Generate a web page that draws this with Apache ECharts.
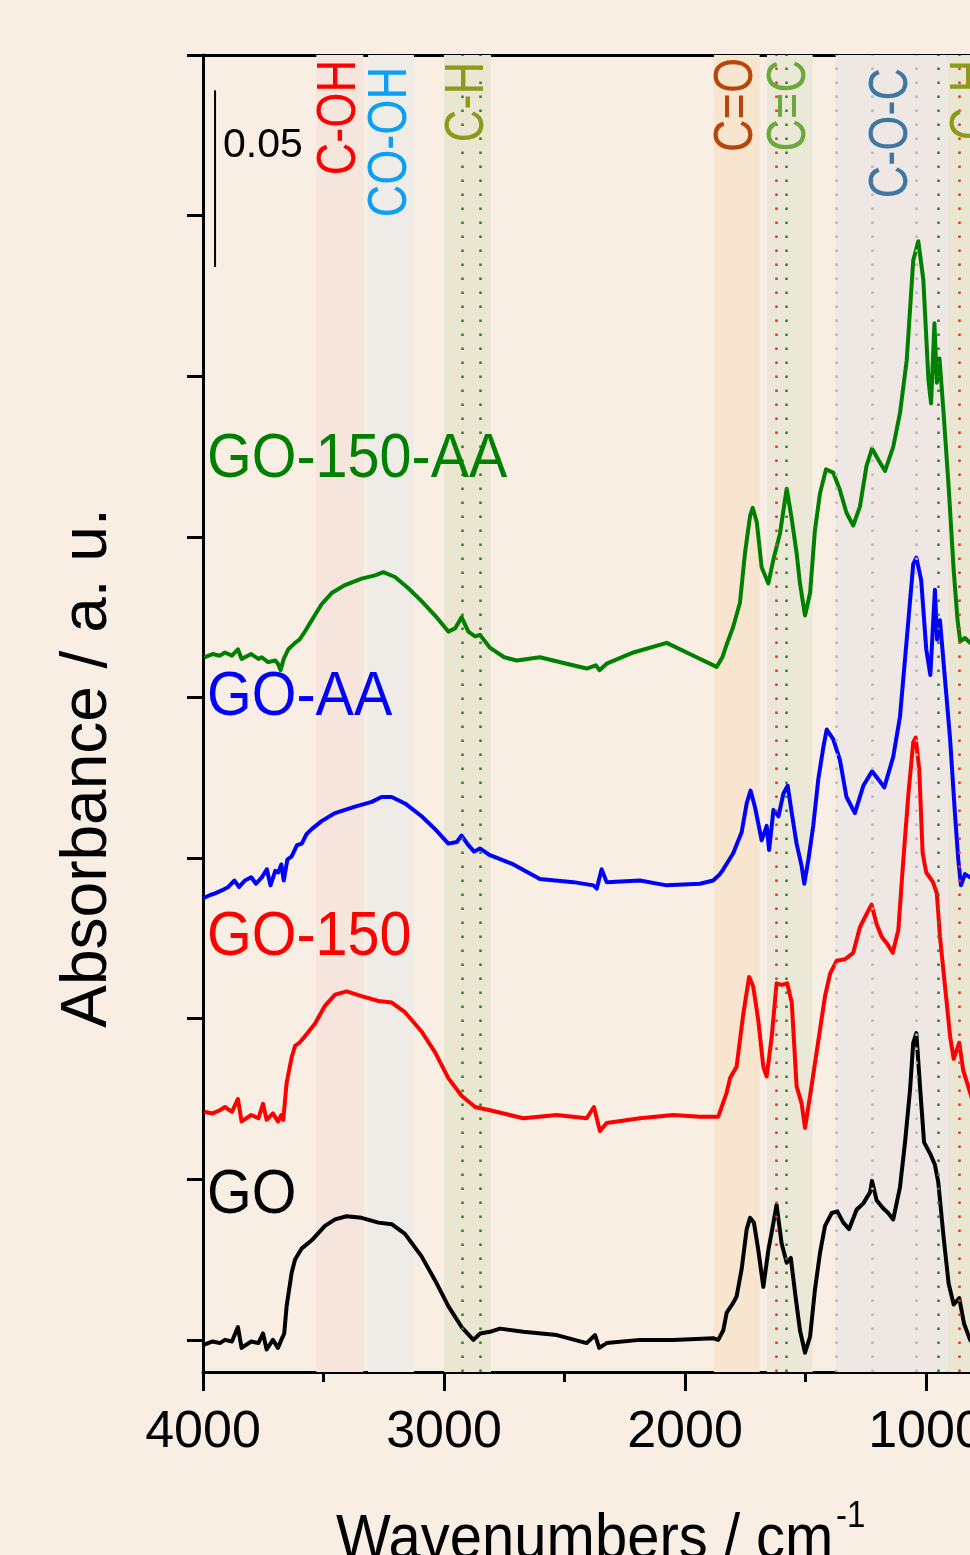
<!DOCTYPE html>
<html>
<head>
<meta charset="utf-8">
<script src="https://cdn.jsdelivr.net/npm/echarts@6/dist/echarts.min.js"></script>
<style>
  html, body { margin: 0; padding: 0; background: #f8eee3; }
  #chart { width: 970px; height: 1555px; }
</style>
</head>
<body>
<div id="chart"></div>
<script>
// spectra: [wavenumber cm-1, offset absorbance in tick units]
const go = [[3995,-0.03],[3960,-0.01],[3930,-0.02],[3909,0.00],[3880,-0.01],[3855,0.08],[3840,-0.05],[3800,-0.01],[3770,-0.02],[3751,0.04],[3736,-0.06],[3710,0.00],[3689,-0.05],[3675,0.00],[3663,0.04],[3653,0.21],[3632,0.42],[3618,0.50],[3590,0.57],[3549,0.62],[3494,0.71],[3452,0.75],[3404,0.77],[3342,0.76],[3272,0.73],[3217,0.72],[3162,0.66],[3093,0.52],[3037,0.37],[2982,0.21],[2927,0.08],[2878,0.00],[2850,0.04],[2809,0.05],[2768,0.07],[2671,0.05],[2532,0.03],[2408,-0.02],[2373,0.03],[2356,-0.05],[2325,-0.02],[2187,0.00],[2049,0.00],[1883,0.01],[1862,0.00],[1841,0.06],[1827,0.17],[1800,0.23],[1786,0.27],[1765,0.44],[1744,0.69],[1730,0.76],[1714,0.73],[1696,0.56],[1675,0.33],[1654,0.56],[1633,0.73],[1620,0.84],[1599,0.60],[1578,0.48],[1561,0.51],[1543,0.29],[1523,0.06],[1502,-0.08],[1481,0.02],[1461,0.31],[1440,0.54],[1419,0.71],[1391,0.79],[1368,0.80],[1343,0.73],[1319,0.69],[1288,0.81],[1260,0.85],[1232,0.92],[1224,0.99],[1205,0.87],[1178,0.82],[1157,0.79],[1136,0.75],[1108,0.95],[1087,1.23],[1066,1.56],[1053,1.85],[1040,1.91],[1024,1.56],[1008,1.23],[983,1.16],[963,1.09],[949,0.98],[927,0.64],[906,0.35],[885,0.22],[862,0.26],[842,0.10],[817,0.00],[800,-0.03]];

const go150 = [[3995,1.42],[3960,1.41],[3930,1.43],[3909,1.45],[3880,1.42],[3855,1.50],[3840,1.36],[3800,1.40],[3770,1.38],[3751,1.47],[3736,1.37],[3710,1.41],[3689,1.36],[3675,1.40],[3667,1.37],[3653,1.60],[3632,1.76],[3618,1.83],[3600,1.85],[3577,1.89],[3535,1.97],[3494,2.08],[3452,2.15],[3404,2.17],[3342,2.14],[3272,2.11],[3217,2.10],[3162,2.04],[3093,1.92],[3037,1.79],[2982,1.63],[2927,1.52],[2871,1.45],[2809,1.43],[2671,1.38],[2532,1.40],[2408,1.38],[2378,1.45],[2353,1.30],[2325,1.35],[2187,1.38],[2049,1.40],[1938,1.39],[1862,1.39],[1827,1.54],[1813,1.63],[1786,1.70],[1758,2.03],[1734,2.26],[1717,2.20],[1696,1.99],[1675,1.70],[1661,1.64],[1640,1.89],[1620,2.22],[1599,2.21],[1576,2.22],[1557,2.10],[1537,1.58],[1516,1.47],[1502,1.32],[1481,1.52],[1461,1.72],[1440,1.93],[1419,2.14],[1398,2.28],[1371,2.36],[1336,2.37],[1302,2.41],[1274,2.57],[1247,2.65],[1226,2.71],[1205,2.59],[1184,2.51],[1163,2.47],[1138,2.41],[1115,2.55],[1094,2.99],[1073,3.40],[1053,3.72],[1043,3.75],[1028,3.55],[1014,3.03],[999,2.91],[971,2.85],[955,2.78],[942,2.51],[921,2.20],[900,1.89],[885,1.75],[862,1.85],[846,1.68],[817,1.54],[800,1.45]];

const goAA = [[3999,2.75],[3970,2.77],[3950,2.78],[3920,2.80],[3895,2.82],[3870,2.86],[3850,2.82],[3826,2.86],[3800,2.88],[3780,2.84],[3756,2.88],[3735,2.93],[3720,2.83],[3700,2.92],[3688,2.91],[3675,2.96],[3665,2.86],[3650,2.99],[3632,3.01],[3610,3.08],[3590,3.09],[3570,3.15],[3549,3.18],[3508,3.23],[3452,3.28],[3369,3.32],[3300,3.35],[3259,3.38],[3217,3.38],[3162,3.34],[3093,3.26],[3037,3.18],[2982,3.09],[2947,3.10],[2927,3.14],[2899,3.08],[2875,3.04],[2851,3.06],[2812,3.02],[2712,2.96],[2602,2.87],[2463,2.85],[2380,2.83],[2366,2.81],[2346,2.93],[2325,2.85],[2187,2.86],[2076,2.83],[1938,2.84],[1883,2.86],[1855,2.90],[1841,2.93],[1800,3.03],[1765,3.16],[1744,3.34],[1728,3.42],[1710,3.32],[1682,3.11],[1661,3.20],[1651,3.05],[1633,3.30],[1612,3.26],[1592,3.40],[1574,3.45],[1557,3.28],[1537,3.09],[1516,2.95],[1505,2.84],[1488,2.99],[1468,3.20],[1447,3.49],[1426,3.69],[1412,3.80],[1385,3.74],[1357,3.61],[1330,3.38],[1295,3.28],[1260,3.45],[1224,3.54],[1198,3.49],[1173,3.44],[1136,3.63],[1108,3.88],[1080,4.36],[1053,4.83],[1040,4.87],[1020,4.73],[999,4.30],[982,4.14],[963,4.67],[954,4.36],[942,4.48],[921,4.11],[900,3.74],[880,3.28],[866,2.99],[855,2.83],[838,2.90],[817,2.88],[800,2.89]];

const go150AA = [[3995,4.25],[3960,4.27],[3930,4.26],[3909,4.28],[3880,4.26],[3855,4.30],[3840,4.24],[3800,4.27],[3770,4.24],[3756,4.25],[3730,4.22],[3700,4.23],[3689,4.21],[3678,4.17],[3665,4.24],[3646,4.30],[3618,4.34],[3600,4.36],[3577,4.41],[3549,4.48],[3508,4.58],[3466,4.65],[3411,4.70],[3342,4.74],[3286,4.76],[3252,4.78],[3203,4.75],[3148,4.68],[3093,4.60],[3037,4.51],[2982,4.41],[2954,4.43],[2927,4.50],[2899,4.41],[2871,4.38],[2851,4.39],[2810,4.31],[2750,4.25],[2698,4.23],[2602,4.25],[2491,4.21],[2408,4.18],[2370,4.20],[2355,4.17],[2325,4.21],[2214,4.28],[2076,4.34],[1965,4.26],[1869,4.19],[1845,4.25],[1827,4.33],[1800,4.44],[1772,4.59],[1751,4.90],[1730,5.13],[1719,5.18],[1702,5.09],[1682,4.81],[1654,4.71],[1633,4.86],[1606,5.02],[1578,5.30],[1557,5.11],[1537,4.90],[1523,4.71],[1502,4.51],[1481,4.65],[1461,5.04],[1440,5.27],[1415,5.42],[1385,5.40],[1357,5.29],[1330,5.15],[1302,5.07],[1274,5.19],[1247,5.44],[1224,5.55],[1198,5.48],[1170,5.41],[1136,5.56],[1108,5.77],[1080,6.10],[1053,6.72],[1032,6.84],[1011,6.60],[990,5.98],[979,5.83],[965,6.33],[955,5.96],[944,6.11],[927,5.77],[906,5.31],[885,4.79],[869,4.48],[858,4.35],[838,4.37],[817,4.34],[800,4.35]];

const seriesNames = ['GO', 'GO-150', 'GO-AA', 'GO-150-AA'];

// assignment bands (cm-1)
const bandNames = ['C-OH', 'CO-OH', 'C-H', 'C=O', 'C=C', 'C-O-C', 'C-H'];
const bandRanges = [[3530, 3335], [3315, 3125], [3000, 2805], [1880, 1690], [1660, 1470], [1375, 910], [910, 700]];

// dotted peak markers (cm-1)
const greenLines = [2925, 2850, 1580, 948];
const redLines = [1620, 862];
const greyLines = [1373, 1225, 1040];

const xMajorTicks = [4000, 3000, 2000, 1000];
const xMinorTicks = [3500, 2500, 1500];
const yTicks = [0, 1, 2, 3, 4, 5, 6, 7, 8];

// 0.05 absorbance scale bar
const scaleBar = [[3950, 7.78], [3950, 6.68]];

const FONT = "'Liberation Sans', Arial, Helvetica, sans-serif";
const lineColors = ['#000000', '#ff0000', '#0000ff', '#008000'];
const bandFill = ['#f6e5dc', '#efebe6', '#ebe6d1', '#f8e5cf', '#ebe8d8', '#eee7e3', '#ebe6d1'];
const bandText = ['#ff0000', '#0aa0f5', '#8c9a1a', '#b8460b', '#6aaa3c', '#3f77a3', '#8c9a1a'];

const chart = echarts.init(document.getElementById('chart'));

const axisStyle = { color: '#000', width: 3 };
const xBase = { type: 'value', min: 800, max: 4000, inverse: true, gridIndex: 0, splitLine: { show: false } };

const dotted = (color) => ({ color: color, width: 2.5, type: [2.5, 11.5] });

const markLines = []
  .concat(greenLines.map(v => ({ xAxis: v, lineStyle: dotted('#1e8c1e') })))
  .concat(redLines.map(v => ({ xAxis: v, lineStyle: dotted('#ff2a2a') })))
  .concat(greyLines.map(v => ({ xAxis: v, lineStyle: dotted('#b9b9b9') })));

const spectra = [go, go150, goAA, go150AA];

const option = {
  backgroundColor: '#f8eee3',
  animation: false,
  grid: { left: 203, top: 55, width: 771.2, height: 1317, outerBoundsMode: 'none', containLabel: false },
  xAxis: [
    Object.assign({}, xBase, {
      position: 'bottom',
      axisLine: { onZero: false, lineStyle: axisStyle },
      axisTick: { show: true, customValues: xMajorTicks, length: 19, lineStyle: axisStyle },
      axisLabel: {
        customValues: xMajorTicks, fontSize: 52, fontFamily: FONT, color: '#000', margin: 35,
        hideOverlap: false, showMinLabel: true, showMaxLabel: true,
        formatter: v => String(v)
      }
    }),
    Object.assign({}, xBase, {
      position: 'bottom',
      axisLine: { show: false, onZero: false },
      axisTick: { show: true, customValues: xMinorTicks, length: 10, lineStyle: axisStyle },
      axisLabel: { show: false }
    }),
    Object.assign({}, xBase, {
      position: 'top',
      axisLine: { onZero: false, lineStyle: axisStyle },
      axisTick: { show: false },
      axisLabel: { show: false }
    })
  ],
  yAxis: {
    type: 'value', min: -0.2, max: 8,
    axisLine: { show: true, onZero: false, lineStyle: axisStyle },
    axisTick: { show: true, customValues: yTicks, length: 16, lineStyle: axisStyle },
    axisLabel: { show: false },
    splitLine: { show: false }
  },
  series: [
    {
      type: 'line', name: 'bands', z: 1, silent: true, data: [],
      markArea: {
        silent: true,
        data: bandRanges.map((r, i) => [{ xAxis: r[0], itemStyle: { color: bandFill[i] } }, { xAxis: r[1] }])
      },
      markLine: {
        silent: true, symbol: ['none', 'none'], label: { show: false },
        emphasis: { disabled: true },
        data: markLines
      }
    },
    {
      type: 'line', name: 'scale', z: 4, silent: true, symbol: 'none',
      lineStyle: { color: '#000', width: 2 }, data: scaleBar
    }
  ].concat(spectra.map((d, i) => ({
    type: 'line', name: seriesNames[i], z: 3, symbol: 'none', silent: true,
    lineStyle: { color: lineColors[i], width: 4, join: 'round' }, data: d
  })))
};

chart.setOption(option);

// annotations
const px = (w, v) => chart.convertToPixel({ xAxisIndex: 0, yAxisIndex: 0 }, [w, v]);
const graphics = [];

const bandLabelTop = [60, 67, 62, 58, 60, 68, 60];
bandNames.forEach((name, i) => {
  const cx = px((bandRanges[i][0] + bandRanges[i][1]) / 2, 0)[0];
  graphics.push({
    type: 'text', x: cx, y: bandLabelTop[i], rotation: Math.PI / 2, scaleX: 0.82, z: 20,
    style: { text: name, fill: bandText[i], font: '55px ' + FONT, align: 'right', verticalAlign: 'middle' }
  });
});

const nameY = [1196, 938, 698, 460];
seriesNames.forEach((name, i) => {
  graphics.push({
    type: 'text', x: 207, y: nameY[i], scaleY: 1.1, z: 20,
    style: { text: name, fill: lineColors[i], font: '57.5px ' + FONT, align: 'left', verticalAlign: 'middle' }
  });
});

graphics.push({
  type: 'text', x: 223, y: 146, z: 20,
  style: { text: '0.05', fill: '#000', font: '41px ' + FONT, align: 'left', verticalAlign: 'middle' }
});
graphics.push({
  type: 'text', x: 88, y: 768, rotation: Math.PI / 2, z: 20,
  style: { text: 'Absorbance / a. u.', fill: '#000', font: '64px ' + FONT, align: 'center', verticalAlign: 'middle' }
});
graphics.push({
  type: 'text', x: 336, y: 1540, scaleY: 1.1, z: 20,
  style: { text: 'Wavenumbers / cm', fill: '#000', font: '58px ' + FONT, align: 'left', verticalAlign: 'middle' }
});
graphics.push({
  type: 'text', x: 836, y: 1517, scaleY: 1.1, z: 20,
  style: { text: '-1', fill: '#000', font: '33px ' + FONT, align: 'left', verticalAlign: 'middle' }
});

chart.setOption({ graphic: graphics });
</script>
</body>
</html>
